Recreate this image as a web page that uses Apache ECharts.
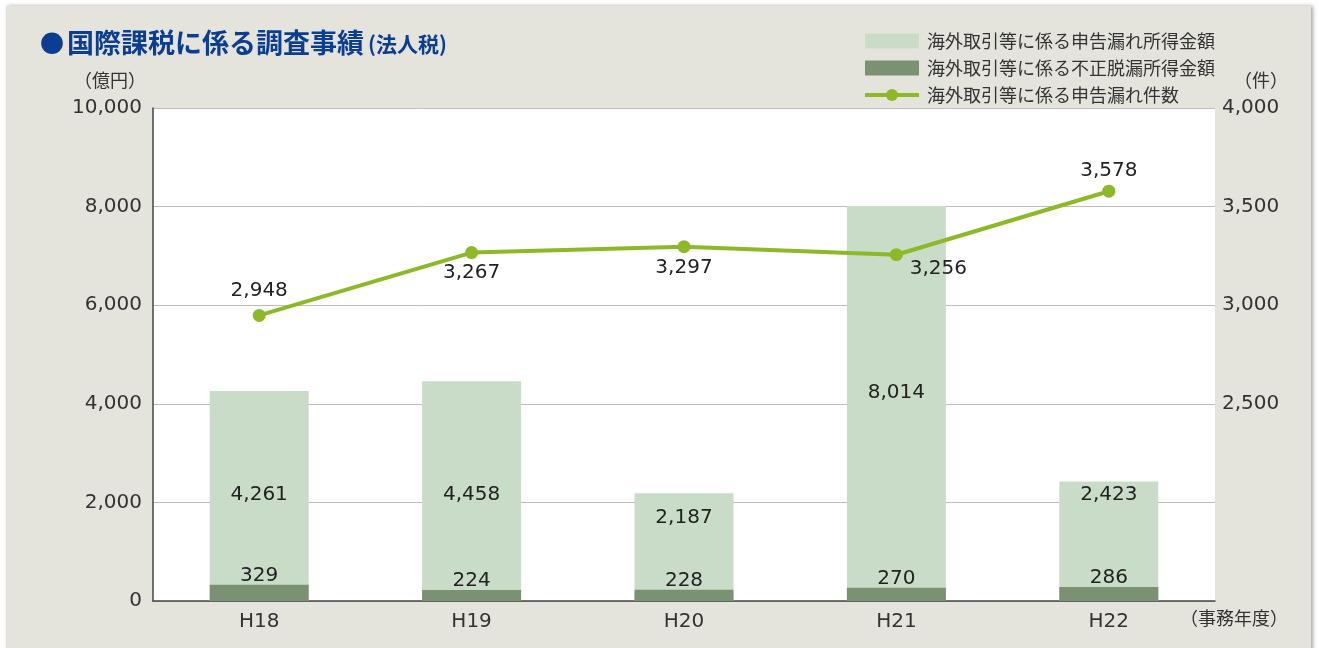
<!DOCTYPE html>
<html>
<head>
<meta charset="utf-8">
<script src="https://cdn.jsdelivr.net/npm/echarts@6/dist/echarts.min.js"></script>
<style>
  html, body { margin: 0; padding: 0; background: #fff; }
  #main { width: 1319px; height: 648px; }
</style>
</head>
<body>
<div id="main"></div>
<script>
// 事務年度
const years = ['H18', 'H19', 'H20', 'H21', 'H22'];
// 海外取引等に係る申告漏れ所得金額（億円）
const shinkokuMore = [4261, 4458, 2187, 8014, 2423];
// 海外取引等に係る不正脱漏所得金額（億円）
const fuseiDatsuro = [329, 224, 228, 270, 286];
// 海外取引等に係る申告漏れ件数（件）
const kensu = [2948, 3267, 3297, 3256, 3578];

const FONT = '"Noto Sans CJK JP", "Noto Sans", sans-serif';
const NUM = '"DejaVu Sans", sans-serif';
const fmt = v => String(v).replace(/\B(?=(\d{3})+(?!\d))/g, ',');

// label placement tweaks for each year
const moreLabelDist = [96, 96, 73, 198, 96];
const lineLabelPos = [
  { position: 'top', offset: [0, 0] },
  { position: 'bottom', offset: [0, -4] },
  { position: 'bottom', offset: [0, -3] },
  { position: 'bottom', offset: [42, -10] },
  { position: 'top', offset: [0, 4] }
];

const chart = echarts.init(document.getElementById('main'), null, { renderer: 'canvas' });

chart.setOption({
  backgroundColor: '#fff',
  textStyle: { fontFamily: FONT },
  graphic: [
    {
      type: 'rect', z: -10, silent: true,
      shape: { x: 6, y: 6, width: 1305, height: 660 },
      style: { fill: '#e4e4dc', shadowBlur: 4, shadowColor: 'rgba(0,0,0,0.35)', shadowOffsetX: 2 }
    },
    {
      type: 'text', left: 40, top: 29,
      style: {
        text: '{a|●}{b|国際課税に係る調査事績}{c|(法人税)}',
        rich: {
          a: { fill: '#0b3e92', fontSize: 24, fontFamily: FONT, padding: [0, 3, 0, 0] },
          b: { fill: '#0b3e92', fontSize: 27, fontWeight: 'bold', fontFamily: FONT },
          c: { fill: '#0b3e92', fontSize: 21, fontWeight: 'bold', fontFamily: FONT, padding: [3, 0, 0, 4] }
        }
      }
    },
    { type: 'text', left: 74, top: 71, style: { text: '（億円）', fill: '#333', fontSize: 18, fontFamily: FONT } },
    { type: 'text', left: 1234, top: 71, style: { text: '（件）', fill: '#333', fontSize: 18, fontFamily: FONT } },
    { type: 'text', left: 1180, top: 609, style: { text: '（事務年度）', fill: '#333', fontSize: 18, fontFamily: FONT } }
  ],
  legend: {
    orient: 'vertical',
    left: 858,
    top: 27,
    itemWidth: 54,
    itemHeight: 15,
    itemGap: 9,
    textStyle: { fontSize: 18, color: '#333', fontFamily: FONT, lineHeight: 18, padding: [0, 0, 0, 3] },
    data: [
      { name: '海外取引等に係る申告漏れ所得金額', icon: 'rect' },
      { name: '海外取引等に係る不正脱漏所得金額', icon: 'rect' },
      { name: '海外取引等に係る申告漏れ件数', lineStyle: { width: 4 } }
    ]
  },
  grid: {
    left: 153, right: 104, top: 108, bottom: 47,
    show: true, backgroundColor: '#fff', borderWidth: 0
  },
  xAxis: {
    type: 'category',
    data: years,
    axisLine: { lineStyle: { color: '#444', width: 1.5 } },
    axisTick: { inside: true, length: 13, lineStyle: { color: '#444' } },
    axisLabel: { fontSize: 20, color: '#333', margin: 11, fontFamily: NUM }
  },
  yAxis: [
    {
      type: 'value', min: 0, max: 10000, interval: 2000,
      axisLine: { show: true, lineStyle: { color: '#444', width: 1.5 } },
      axisTick: { show: false },
      splitLine: { lineStyle: { color: '#bcbcbc' } },
      axisLabel: { fontSize: 20, color: '#333', margin: 11, padding: [4, 0, 0, 0], formatter: v => fmt(v), fontFamily: NUM }
    },
    {
      type: 'value', min: 1500, max: 4000, interval: 500,
      axisLine: { show: false },
      axisTick: { show: false },
      splitLine: { show: false },
      axisLabel: { fontSize: 20, color: '#333', margin: 7, padding: [4, 0, 0, 0], formatter: v => v >= 2500 ? fmt(v) : '', fontFamily: NUM }
    }
  ],
  series: [
    {
      name: '海外取引等に係る申告漏れ所得金額',
      type: 'bar',
      barWidth: 99,
      barGap: '-100%',
      z: 2,
      itemStyle: { color: '#c9dcc8' },
      data: shinkokuMore.map((v, i) => ({
        value: v,
        label: { show: true, position: 'insideBottom', distance: moreLabelDist[i] }
      })),
      label: { fontSize: 20, color: '#222', formatter: p => fmt(p.value), fontFamily: NUM }
    },
    {
      name: '海外取引等に係る不正脱漏所得金額',
      type: 'bar',
      barWidth: 99,
      barGap: '-100%',
      z: 3,
      itemStyle: { color: '#7a9271' },
      label: { show: true, position: 'top', distance: 1, offset: [0, 2], fontSize: 20, color: '#222', fontFamily: NUM },
      data: fuseiDatsuro
    },
    {
      name: '海外取引等に係る申告漏れ件数',
      type: 'line',
      yAxisIndex: 1,
      z: 5,
      symbol: 'circle',
      symbolSize: 13,
      itemStyle: { color: '#8db828' },
      lineStyle: { color: '#8db828', width: 4 },
      data: kensu.map((v, i) => ({
        value: v,
        label: Object.assign({ show: true, distance: 8 }, lineLabelPos[i])
      })),
      label: { fontSize: 20, color: '#222', formatter: p => fmt(p.value), fontFamily: NUM }
    }
  ]
});
</script>
</body>
</html>
